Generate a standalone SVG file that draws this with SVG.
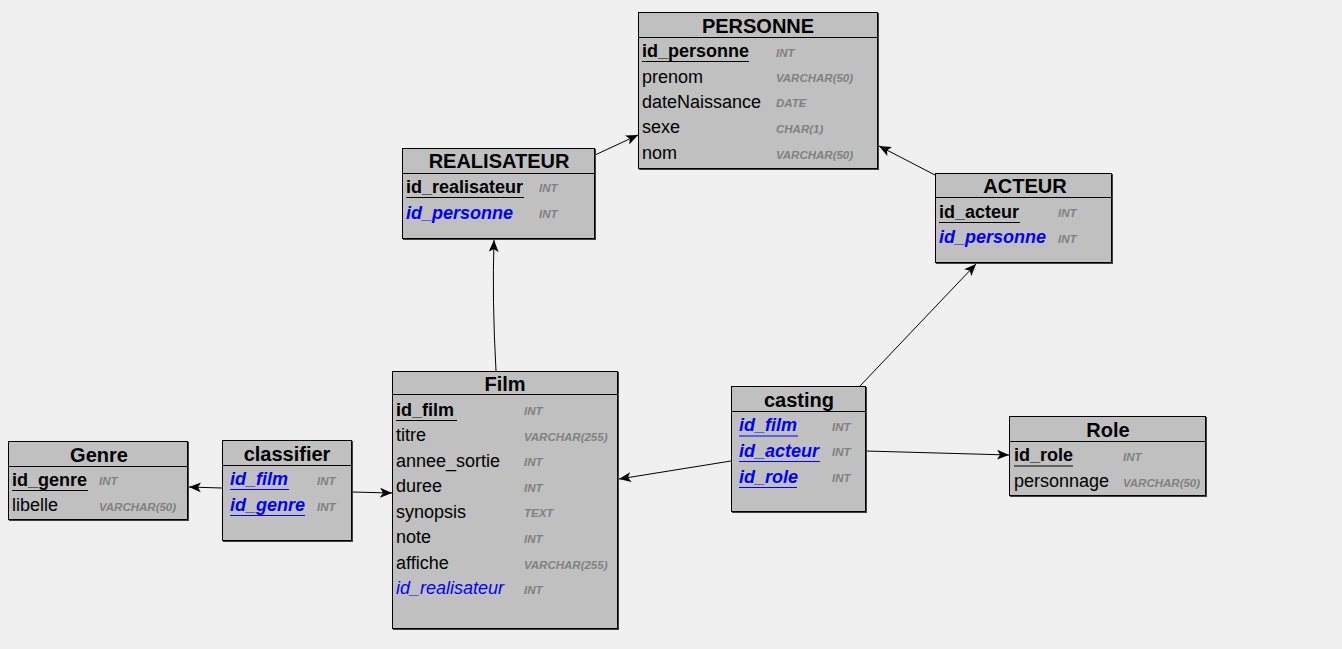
<svg xmlns="http://www.w3.org/2000/svg" width="1342" height="649" viewBox="0 0 1342 649">
<style>
.bg{fill:#f0f0f0}
.shadow{fill:#404040}
.box{fill:#c0c0c0;stroke:#000;stroke-width:1}
.hl{stroke:#000;stroke-width:1.2}
.title{font-family:"Liberation Sans",Arial,sans-serif;font-weight:bold;font-size:20px;fill:#000;text-anchor:middle}
.f{font-family:"Liberation Sans",Arial,sans-serif;font-size:18px;fill:#000}
.pk{font-weight:bold}
.fk{font-style:italic;fill:#0000ff}
.fkb{font-style:italic;font-weight:bold;fill:#0000ff}
.pkfk{font-style:italic;font-weight:bold;fill:#0000ff}
.t{font-family:"Liberation Sans",Arial,sans-serif;font-size:11.5px;font-weight:bold;font-style:italic;fill:#808080}
.ul{stroke:#000;stroke-width:1.2}
.ulb{stroke:#0000ff;stroke-width:1.2}
.conn line,.conn path{stroke:#000;stroke-width:1;fill:none;marker-end:url(#arr)}
</style>
<defs>
<marker id="arr" viewBox="0 0 12 10" refX="12" refY="5" markerWidth="12" markerHeight="10" markerUnits="userSpaceOnUse" orient="auto">
<path d="M0,0 L12,5 L0,10 L3,5 Z" fill="#000"/>
</marker>
</defs>
<rect class="bg" x="0" y="0" width="1342" height="649"/>

<g class="conn" id="connectors">
<line x1="595" y1="155" x2="638" y2="135"/>
<line x1="935" y1="175" x2="879" y2="146"/>
<path d="M496,371 Q492,300 494,240"/>
<line x1="860" y1="386" x2="976" y2="264"/>
<line x1="731" y1="461" x2="619" y2="479"/>
<line x1="866" y1="451" x2="1009" y2="455"/>
<line x1="222" y1="488" x2="189" y2="487"/>
<line x1="352" y1="492" x2="392" y2="493"/>
</g>

<g id="PERSONNE">
<rect class="shadow" x="639" y="13" width="240" height="157"/>
<rect class="box" x="638.5" y="12.5" width="239" height="156"/>
<line class="hl" x1="638.5" y1="37.5" x2="877.5" y2="37.5"/>
<text class="title" x="758" y="33">PERSONNE</text>
<text class="f pk" x="642" y="57">id_personne</text>
<line class="ul" x1="642" y1="61.5" x2="749" y2="61.5"/>
<text class="t" x="776" y="57">INT</text>
<text class="f" x="642" y="83">prenom</text>
<text class="t" x="776" y="82">VARCHAR(50)</text>
<text class="f" x="642" y="108">dateNaissance</text>
<text class="t" x="776" y="107">DATE</text>
<text class="f" x="642" y="133">sexe</text>
<text class="t" x="776" y="133">CHAR(1)</text>
<text class="f" x="642" y="159">nom</text>
<text class="t" x="776" y="159">VARCHAR(50)</text>
</g>

<g id="REALISATEUR">
<rect class="shadow" x="403" y="149" width="193" height="91"/>
<rect class="box" x="402.5" y="148.5" width="192" height="90"/>
<line class="hl" x1="402.5" y1="173.5" x2="594.5" y2="173.5"/>
<text class="title" x="499" y="168">REALISATEUR</text>
<text class="f pk" x="406" y="193">id_realisateur</text>
<line class="ul" x1="406" y1="197.5" x2="524" y2="197.5"/>
<text class="t" x="539" y="192">INT</text>
<text class="f fkb" x="406" y="219">id_personne</text>
<text class="t" x="539" y="218">INT</text>
</g>

<g id="ACTEUR">
<rect class="shadow" x="936" y="174" width="177" height="90"/>
<rect class="box" x="935.5" y="173.5" width="176" height="89"/>
<line class="hl" x1="935.5" y1="197.5" x2="1111.5" y2="197.5"/>
<text class="title" x="1025" y="193">ACTEUR</text>
<text class="f pk" x="939" y="218">id_acteur</text>
<line class="ul" x1="939" y1="222.5" x2="1020" y2="222.5"/>
<text class="t" x="1058" y="217">INT</text>
<text class="f fkb" x="939" y="243">id_personne</text>
<text class="t" x="1058" y="243">INT</text>
</g>

<g id="Film">
<rect class="shadow" x="393" y="372" width="226" height="258"/>
<rect class="box" x="392.5" y="371.5" width="225" height="257"/>
<line class="hl" x1="392.5" y1="394.5" x2="617.5" y2="394.5"/>
<text class="title" x="505" y="391">Film</text>
<text class="f pk" x="396" y="416">id_film</text>
<line class="ul" x1="396" y1="420.5" x2="457" y2="420.5"/>
<text class="t" x="524" y="415">INT</text>
<text class="f" x="396" y="441">titre</text>
<text class="t" x="524" y="441">VARCHAR(255)</text>
<text class="f" x="396" y="467">annee_sortie</text>
<text class="t" x="524" y="466">INT</text>
<text class="f" x="396" y="492">duree</text>
<text class="t" x="524" y="492">INT</text>
<text class="f" x="396" y="518">synopsis</text>
<text class="t" x="524" y="517">TEXT</text>
<text class="f" x="396" y="543">note</text>
<text class="t" x="524" y="543">INT</text>
<text class="f" x="396" y="569">affiche</text>
<text class="t" x="524" y="569">VARCHAR(255)</text>
<text class="f fk" x="396" y="594">id_realisateur</text>
<text class="t" x="524" y="594">INT</text>
</g>

<g id="casting">
<rect class="shadow" x="732" y="387" width="135" height="126"/>
<rect class="box" x="731.5" y="386.5" width="134" height="125"/>
<line class="hl" x1="731.5" y1="411.5" x2="865.5" y2="411.5"/>
<text class="title" x="799" y="407">casting</text>
<text class="f pkfk" x="739" y="431">id_film</text>
<line class="ulb" x1="739" y1="436" x2="798" y2="436"/>
<text class="t" x="832" y="431">INT</text>
<text class="f pkfk" x="739" y="457">id_acteur</text>
<line class="ulb" x1="739" y1="461.5" x2="820" y2="461.5"/>
<text class="t" x="832" y="456">INT</text>
<text class="f pkfk" x="739" y="483">id_role</text>
<line class="ulb" x1="739" y1="487.5" x2="797" y2="487.5"/>
<text class="t" x="832" y="482">INT</text>
</g>

<g id="Genre">
<rect class="shadow" x="9" y="442" width="180" height="79"/>
<rect class="box" x="8.5" y="441.5" width="179" height="78"/>
<line class="hl" x1="8.5" y1="466.5" x2="187.5" y2="466.5"/>
<text class="title" x="99" y="462">Genre</text>
<text class="f pk" x="12" y="486">id_genre</text>
<line class="ul" x1="12" y1="490.5" x2="88" y2="490.5"/>
<text class="t" x="99" y="485">INT</text>
<text class="f" x="12" y="511">libelle</text>
<text class="t" x="99" y="511">VARCHAR(50)</text>
</g>

<g id="classifier">
<rect class="shadow" x="223" y="441" width="130" height="101"/>
<rect class="box" x="222.5" y="440.5" width="129" height="100"/>
<line class="hl" x1="222.5" y1="465.5" x2="351.5" y2="465.5"/>
<text class="title" x="287" y="461">classifier</text>
<text class="f pkfk" x="230" y="485">id_film</text>
<line class="ulb" x1="230" y1="489.5" x2="289" y2="489.5"/>
<text class="t" x="317" y="485">INT</text>
<text class="f pkfk" x="230" y="511">id_genre</text>
<line class="ulb" x1="230" y1="515.5" x2="305" y2="515.5"/>
<text class="t" x="317" y="511">INT</text>
</g>

<g id="Role">
<rect class="shadow" x="1010" y="417" width="197" height="80"/>
<rect class="box" x="1009.5" y="416.5" width="196" height="79"/>
<line class="hl" x1="1009.5" y1="441.5" x2="1205.5" y2="441.5"/>
<text class="title" x="1108" y="437">Role</text>
<text class="f pk" x="1014" y="461">id_role</text>
<line class="ul" x1="1014" y1="466" x2="1073" y2="466"/>
<text class="t" x="1123" y="461">INT</text>
<text class="f" x="1014" y="487">personnage</text>
<text class="t" x="1123" y="487">VARCHAR(50)</text>
</g>
</svg>
